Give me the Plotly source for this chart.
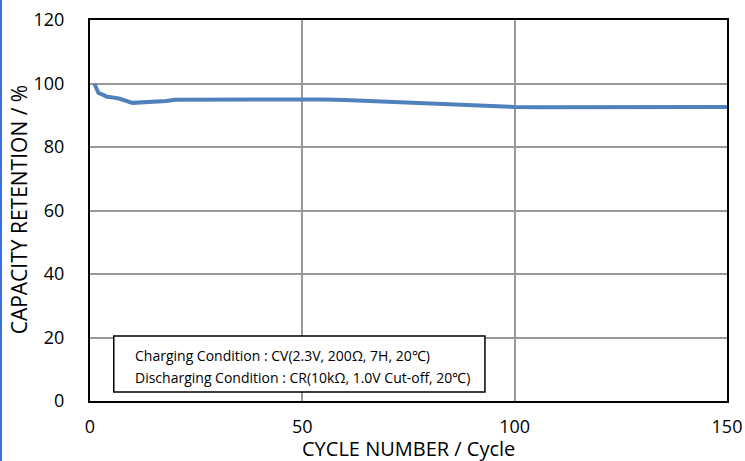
import plotly.graph_objects as go

cycles = [1, 2, 3, 4, 5, 7, 10, 15, 18, 20, 30, 40, 50, 55, 60, 70, 80, 90, 100, 105, 120, 150]
retention = [100, 97.0, 96.5, 95.8, 95.7, 95.2, 93.9, 94.2, 94.5, 94.9, 95.0, 94.9, 94.9, 95.0, 94.8, 94.2, 93.6, 93.0, 92.6, 92.5, 92.6, 92.6]

x_ticks = [0, 50, 100, 150]
y_ticks = [0, 20, 40, 60, 80, 100, 120]
x_title = "CYCLE NUMBER / Cycle"
y_title = "CAPACITY RETENTION / %"
note_lines = ["Charging Condition : CV(2.3V, 200Ω, 7H, 20℃)",
              "Discharging Condition : CR(10kΩ, 1.0V Cut-off, 20℃)"]

font_family = "Open Sans, Lato, sans-serif"

fig = go.Figure()
fig.add_trace(go.Scatter(x=cycles, y=retention, mode="lines",
                         line=dict(color="#4f81bd", width=4), showlegend=False))

fig.update_layout(
    width=745, height=461,
    margin=dict(l=90, r=18, t=20, b=60, autoexpand=False),
    paper_bgcolor="white", plot_bgcolor="white",
    font=dict(family=font_family, color="black", size=18),
    xaxis=dict(range=[0, 150], tickvals=x_ticks, showgrid=True, gridcolor="#999999", gridwidth=1.5,
               showline=True, linecolor="black", linewidth=2, mirror=True, zeroline=False,
               ticks="", tickfont=dict(size=18), ticklabelstandoff=8, automargin=False,
               ticklabeloverflow="allow"),
    yaxis=dict(range=[0, 120], tickvals=y_ticks, showgrid=True, gridcolor="#999999", gridwidth=1.5,
               showline=True, linecolor="black", linewidth=2, mirror=True, zeroline=False,
               ticks="", tickfont=dict(size=18), ticklabelstandoff=20, automargin=False,
               ticklabeloverflow="allow"),
)

fig.add_annotation(xref="paper", yref="paper", x=0.5, y=-0.1234, xanchor="center", yanchor="middle",
                   text=x_title, showarrow=False, font=dict(size=20))
fig.add_annotation(xref="paper", yref="paper", x=-0.1115, y=0.503, xanchor="center", yanchor="middle",
                   text=y_title, showarrow=False, textangle=-90, font=dict(size=21))

fig.add_shape(type="rect", xref="x", yref="y", x0=5.6, x1=93.0, y0=2.8, y1=20.5,
              line=dict(color="black", width=1.5), fillcolor="white", layer="above")
fig.add_annotation(xref="x", yref="y", x=10.1, y=14.3, xanchor="left", yanchor="middle",
                   text=note_lines[0], showarrow=False, font=dict(size=14))
fig.add_annotation(xref="x", yref="y", x=10.1, y=7.4, xanchor="left", yanchor="middle",
                   text=note_lines[1], showarrow=False, font=dict(size=14))

# blue left page border
fig.add_shape(type="line", xref="paper", yref="paper", x0=-0.1397, x1=-0.1397, y0=-0.2, y1=1.1,
              line=dict(color="#3a6fd8", width=2))

fig.write_html("out.html", config={"displayModeBar": False},
               post_script="document.body.style.margin='0px';document.body.style.overflow='hidden';")
